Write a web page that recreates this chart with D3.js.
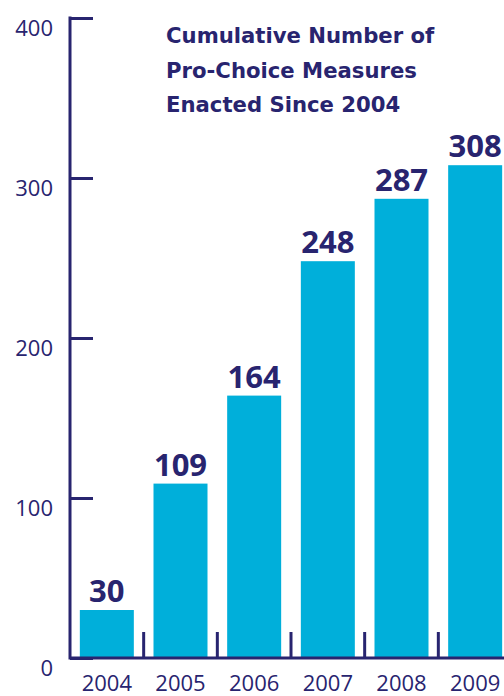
<!DOCTYPE html>
<html>
<head>
<meta charset="utf-8">
<script src="https://cdn.jsdelivr.net/npm/d3@7"></script>
<style>
  body { margin: 0; background: #fff; }
  svg { display: block; }
</style>
</head>
<body>
<svg width="504" height="696"></svg>
<script>
const years = ["2004", "2005", "2006", "2007", "2008", "2009"];
const measures = [30, 109, 164, 248, 287, 308];
const yTicks = [0, 100, 200, 300, 400];
const titleLines = ["Cumulative Number of", "Pro-Choice Measures", "Enacted Since 2004"];

const navy = "#28246f";
const cyan = "#00afda";

const svg = d3.select("svg");

const margin = { top: 18, left: 70, bottom: 658 };

const xScale = d3
  .scaleBand()
  .domain(years)
  .range([margin.left, 512])
  .paddingInner(0.267)
  .paddingOuter(0.1335);

const yScale = d3
  .scaleLinear()
  .domain([0, 400])
  .range([margin.bottom, margin.top]);

// bars
svg
  .selectAll("rect.bar")
  .data(measures)
  .join("rect")
  .attr("class", "bar")
  .attr("x", (d, i) => xScale(years[i]))
  .attr("y", (d) => yScale(d))
  .attr("width", xScale.bandwidth())
  .attr("height", (d) => yScale(0) - yScale(d))
  .attr("fill", cyan);

// value labels
svg
  .selectAll("text.value")
  .data(measures)
  .join("text")
  .attr("class", "value")
  .attr("x", (d, i) => xScale(years[i]) + xScale.bandwidth() / 2)
  .attr("y", (d) => yScale(d) - 8)
  .attr("text-anchor", "middle")
  .attr("font-family", "'Open Sans', sans-serif")
  .attr("font-weight", "bold")
  .attr("font-size", 31)
  .attr("fill", navy)
  .text((d) => d);

// y axis
const yAxis = d3.axisLeft(yScale).tickValues(yTicks).tickSize(-23).tickPadding(0);
const gy = svg
  .append("g")
  .attr("id", "y-axis")
  .attr("transform", `translate(${margin.left}, 0)`)
  .call(yAxis);
gy.select(".domain").remove();
gy.selectAll(".tick line").attr("stroke", navy).attr("stroke-width", 3);
gy.selectAll(".tick text")
  .attr("x", -17)
  .attr("dy", "0.78em")
  .attr("fill", navy)
  .attr("font-family", "'Open Sans', sans-serif")
  .attr("font-size", 22);
gy.append("line")
  .attr("x1", 0)
  .attr("x2", 0)
  .attr("y1", yScale(400) - 1.5)
  .attr("y2", yScale(0) + 1.5)
  .attr("stroke", navy)
  .attr("stroke-width", 3);

// x axis baseline
svg
  .append("line")
  .attr("x1", margin.left)
  .attr("x2", 504)
  .attr("y1", yScale(0))
  .attr("y2", yScale(0))
  .attr("stroke", navy)
  .attr("stroke-width", 3);

// separators between categories
const step = xScale.step();
svg
  .selectAll("line.sep")
  .data(years.slice(1))
  .join("line")
  .attr("class", "sep")
  .attr("x1", (d) => xScale(d) - (step - xScale.bandwidth()) / 2)
  .attr("x2", (d) => xScale(d) - (step - xScale.bandwidth()) / 2)
  .attr("y1", yScale(0) - 26)
  .attr("y2", yScale(0))
  .attr("stroke", navy)
  .attr("stroke-width", 3);

// year labels
svg
  .selectAll("text.year")
  .data(years)
  .join("text")
  .attr("class", "year")
  .attr("x", (d) => xScale(d) + xScale.bandwidth() / 2)
  .attr("y", 691)
  .attr("text-anchor", "middle")
  .attr("font-family", "'Open Sans', sans-serif")
  .attr("font-size", 22)
  .attr("fill", navy)
  .text((d) => d);

// title
svg
  .append("g")
  .selectAll("text")
  .data(titleLines)
  .join("text")
  .attr("x", 166)
  .attr("y", (d, i) => 43 + i * 34.5)
  .attr("font-family", "'DejaVu Sans', sans-serif")
  .attr("font-weight", "bold")
  .attr("font-size", 21.2)
  .attr("fill", navy)
  .text((d) => d);
</script>
</body>
</html>
